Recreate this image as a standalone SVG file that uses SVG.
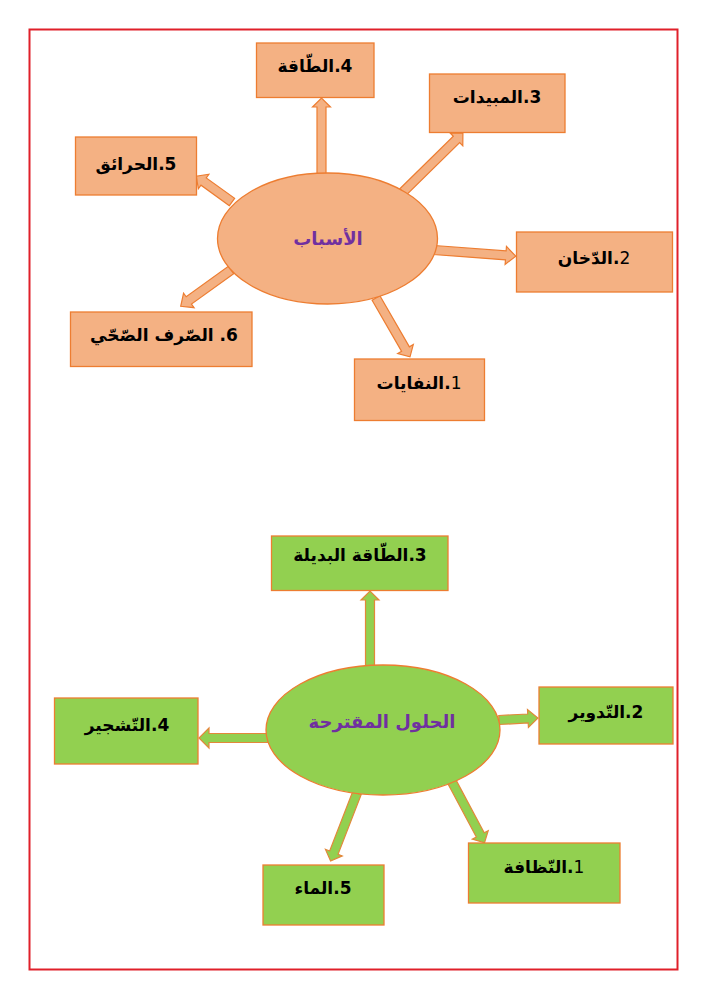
<svg xmlns="http://www.w3.org/2000/svg" width="707" height="1000" viewBox="0 0 707 1000">
<style>
.o{fill:#F4B183;stroke:#ED7D31;stroke-width:1.3}
.g{fill:#92D050;stroke:#ED7D31;stroke-width:1.3}
.ao{fill:#F4B183;stroke:#ED7D31;stroke-width:1.2}
.ag{fill:#92D050;stroke:#E2883A;stroke-width:1.2}
.t{font-family:"DejaVu Sans","Noto Sans",sans-serif;font-size:17px;font-weight:bold;fill:#000;text-anchor:middle;direction:rtl}
.c{font-family:"DejaVu Sans","Noto Sans",sans-serif;font-size:18px;font-weight:bold;fill:#7030A0;text-anchor:middle;direction:rtl}
.n{font-weight:normal}
</style>
<rect x="0" y="0" width="707" height="1000" fill="#fff"/>
<rect x="29.5" y="29.5" width="648" height="940" fill="none" stroke="#E0202A" stroke-width="2"/>
<g id="connectors">
<path class="ao" transform="translate(321.5,175) rotate(-90)" d="M0,-4.5 H68 V-9 L77,0 L68,9 V4.5 H0 Z"/>
<path class="ao" transform="translate(232,202) rotate(-144.2)" d="M0,-4.5 H35 V-9 L44,0 L35,9 V4.5 H0 Z"/>
<path class="ao" transform="translate(403,192) rotate(-44.5)" d="M0,-4.5 H75 V-9 L84,0 L75,9 V4.5 H0 Z"/>
<path class="ao" transform="translate(434,250) rotate(4.3)" d="M0,-4.5 H72 V-9 L82,0 L72,9 V4.5 H0 Z"/>
<path class="ao" transform="translate(231,270) rotate(144.2)" d="M0,-4.5 H52 V-9 L62,0 L52,9 V4.5 H0 Z"/>
<path class="ao" transform="translate(376,298) rotate(60)" d="M0,-4.5 H59 V-9 L68,0 L59,9 V4.5 H0 Z"/>
<path class="ag" transform="translate(370,667) rotate(-90)" d="M0,-4.5 H67 V-9 L76,0 L67,9 V4.5 H0 Z"/>
<path class="ag" transform="translate(268,738) rotate(180)" d="M0,-4.5 H59 V-10 L69,0 L59,10 V4.5 H0 Z"/>
<path class="ag" transform="translate(499,720) rotate(-3)" d="M0,-4.5 H29 V-9 L39,0 L29,9 V4.5 H0 Z"/>
<path class="ag" transform="translate(357,793) rotate(111.2)" d="M0,-4.5 H64 V-9 L73,0 L64,9 V4.5 H0 Z"/>
<path class="ag" transform="translate(452,782) rotate(61.9)" d="M0,-4.5 H60 V-9 L69,0 L60,9 V4.5 H0 Z"/>
</g>
<g id="causes">
<ellipse class="o" cx="327.5" cy="238.5" rx="110" ry="65.5"/>
<text class="c" x="328" y="245">الأسباب</text>
</g>
<g id="c4"><rect class="o" x="256.5" y="43" width="117.5" height="54.5"/><text class="t" x="315" y="72">4.الطّاقة</text></g>
<g id="c5"><rect class="o" x="75.5" y="137" width="121" height="58"/><text class="t" x="136" y="170">5.الحرائق</text></g>
<g id="c3"><rect class="o" x="429.5" y="74" width="135.5" height="58.5"/><text class="t" x="497" y="103">3.المبيدات</text></g>
<g id="c2"><rect class="o" x="516.5" y="232" width="156" height="60"/><text class="t" x="594" y="264"><tspan class="n">2</tspan>.الدّخان</text></g>
<g id="c6"><rect class="o" x="70.5" y="312" width="181.5" height="54.5"/><text class="t" x="164" y="341">6. الصّرف الصّحّي</text></g>
<g id="c1"><rect class="o" x="354.5" y="359" width="130" height="61.5"/><text class="t" x="419" y="389"><tspan class="n">1</tspan>.النفايات</text></g>
<g id="solutions">
<ellipse class="g" cx="383" cy="730" rx="117" ry="65"/>
<text class="c" x="382" y="728">الحلول المقترحة</text>
</g>
<g id="s3"><rect class="g" x="271.5" y="536" width="176.5" height="54.5"/><text class="t" x="360" y="561">3.الطّاقة البديلة</text></g>
<g id="s4"><rect class="g" x="54.5" y="698" width="143.5" height="66"/><text class="t" x="127" y="731">4.التّشجير</text></g>
<g id="s2"><rect class="g" x="539" y="687" width="134" height="57"/><text class="t" x="606" y="718">2.التّدوير</text></g>
<g id="s1"><rect class="g" x="468.5" y="843" width="151.5" height="60"/><text class="t" x="544" y="873"><tspan class="n">1</tspan>.النّظافة</text></g>
<g id="s5"><rect class="g" x="263" y="865" width="121" height="60"/><text class="t" x="323" y="894">5.الماء</text></g>
</svg>
